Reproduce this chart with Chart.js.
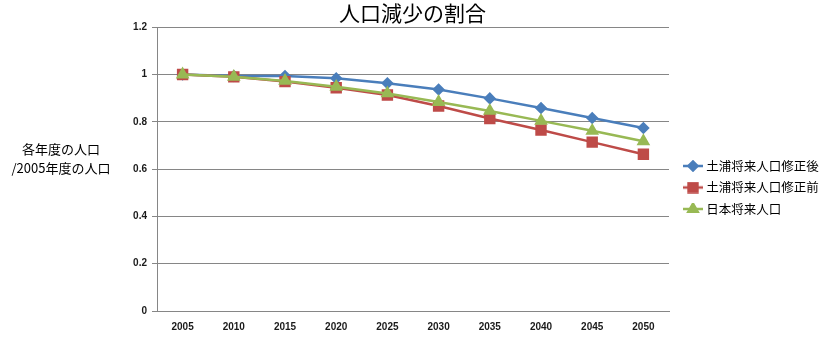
<!DOCTYPE html>
<html>
<head>
<meta charset="utf-8">
<script src="https://cdn.jsdelivr.net/npm/chart.js@4.4.1/dist/chart.umd.min.js"></script>
<style>
  html, body { margin: 0; padding: 0; background: #fff; }
  #wrap { width: 825px; height: 339px; }
</style>
</head>
<body>
<div id="wrap"><canvas id="chartPop"></canvas></div>
<script>
const years = ["2005", "2010", "2015", "2020", "2025", "2030", "2035", "2040", "2045", "2050"];
const revisedTsuchiura = [1.0, 0.994, 0.994, 0.984, 0.963, 0.937, 0.899, 0.858, 0.816, 0.774];
const formerTsuchiura = [1.0, 0.99, 0.97, 0.944, 0.913, 0.867, 0.814, 0.765, 0.714, 0.663];
const japanPop = [1.0, 0.99, 0.973, 0.948, 0.92, 0.884, 0.846, 0.804, 0.762, 0.718];
const seriesNames = ["土浦将来人口修正後", "土浦将来人口修正前", "日本将来人口"];
const yTicks = [0, 0.2, 0.4, 0.6, 0.8, 1, 1.2];

const blue = "#4A7EBB";
const red = "#BE4B48";
const green = "#98B954";
const gridGray = "#868686";
const cjk = "'Noto Sans CJK JP', 'Noto Sans', sans-serif";

// line + marker swatch for the legend (line starts 8px into the canvas)
function swatch(color, style, r) {
  const c = document.createElement("canvas");
  c.width = 28;
  c.height = 12;
  const ctx = c.getContext("2d");
  ctx.strokeStyle = color;
  ctx.lineWidth = 2.5;
  ctx.beginPath();
  ctx.moveTo(8, 6);
  ctx.lineTo(28, 6);
  ctx.stroke();
  ctx.fillStyle = color;
  ctx.strokeStyle = color;
  Chart.helpers.drawPoint(ctx, { pointStyle: style, radius: r, borderWidth: 1 }, 18, 6);
  return c;
}

// fixed-width legend column, items sitting a bit below the middle
const legendBox = {
  id: "legendBox",
  beforeUpdate(chart) {
    const lg = chart.legend;
    if (lg && !lg._patched) {
      const fit = lg.fit;
      const draw = lg.draw;
      lg.fit = function () {
        fit.call(this);
        this.width = 156;
      };
      lg.draw = function () {
        const ctx = this.ctx;
        ctx.save();
        ctx.translate(0, 18);
        draw.call(this);
        ctx.restore();
      };
      lg._patched = true;
    }
  },
};

// horizontal two-line y axis caption
const yCaption = {
  id: "yCaption",
  afterDraw(chart) {
    const ctx = chart.ctx;
    const mid = (chart.chartArea.top + chart.chartArea.bottom) / 2;
    ctx.save();
    ctx.font = "13px " + cjk;
    ctx.fillStyle = "#000";
    ctx.textAlign = "center";
    ctx.textBaseline = "middle";
    ctx.fillText("各年度の人口", 61, mid - 20);
    ctx.fillText("/2005年度の人口", 61, mid - 1);
    ctx.restore();
  },
};

const chartPop = document.getElementById("chartPop");
new Chart(chartPop, {
  type: "line",
  data: {
    labels: years,
    datasets: [
      {
        label: seriesNames[0],
        data: revisedTsuchiura,
        borderColor: blue,
        backgroundColor: blue,
        borderWidth: 2.5,
        pointStyle: "rectRot",
        pointRadius: 4.5,
        pointHoverRadius: 4.5,
        order: 3,
      },
      {
        label: seriesNames[1],
        data: formerTsuchiura,
        borderColor: red,
        backgroundColor: red,
        borderWidth: 2.5,
        pointStyle: "rect",
        pointRadius: 6.3,
        pointHoverRadius: 6.3,
        order: 2,
      },
      {
        label: seriesNames[2],
        data: japanPop,
        borderColor: green,
        backgroundColor: green,
        borderWidth: 2.5,
        pointStyle: "triangle",
        pointRadius: 5.4,
        pointHoverRadius: 5.4,
        order: 1,
      },
    ],
  },
  options: {
    responsive: true,
    maintainAspectRatio: false,
    animation: false,
    layout: { padding: 0 },
    scales: {
      x: {
        offset: true,
        grid: { display: false, drawTicks: false },
        border: { display: true, color: gridGray, width: 1 },
        ticks: {
          color: "#1a1a1a",
          font: { family: "'Liberation Sans', sans-serif", size: 10, weight: "bold" },
          padding: 10,
          maxRotation: 0,
        },
        afterFit(scale) {
          scale.height = 28;
        },
      },
      y: {
        min: 0,
        max: 1.2,
        afterBuildTicks(scale) {
          scale.ticks = yTicks.map((v) => ({ value: v }));
        },
        grid: { color: gridGray, lineWidth: 1, tickLength: 5 },
        border: { display: true, color: gridGray, width: 1 },
        ticks: {
          color: "#1a1a1a",
          font: { family: "'Liberation Sans', sans-serif", size: 10, weight: "bold" },
          padding: 5,
          callback: (v) => String(v),
        },
        afterFit(scale) {
          scale.width = 157;
        },
      },
    },
    plugins: {
      title: {
        display: true,
        text: "人口減少の割合",
        color: "#000",
        font: { family: cjk, size: 21, weight: "normal" },
        padding: { top: 0, bottom: 2 },
      },
      legend: {
        display: true,
        position: "right",
        labels: {
          color: "#000",
          font: { family: cjk, size: 12.5 },
          usePointStyle: true,
          pointStyleWidth: 22,
          padding: 9,
          generateLabels(chart) {
            const swatches = [
              swatch(blue, "rectRot", 4.5),
              swatch(red, "rect", 6.3),
              swatch(green, "triangle", 5.4),
            ];
            return chart.data.datasets.map((ds, i) => ({
              text: ds.label,
              pointStyle: swatches[i],
              fillStyle: ds.borderColor,
              strokeStyle: ds.borderColor,
              lineWidth: 0,
              fontColor: "#000",
              datasetIndex: i,
              hidden: false,
            }));
          },
        },
      },
      tooltip: { enabled: false },
    },
  },
  plugins: [legendBox, yCaption],
});
</script>
</body>
</html>
